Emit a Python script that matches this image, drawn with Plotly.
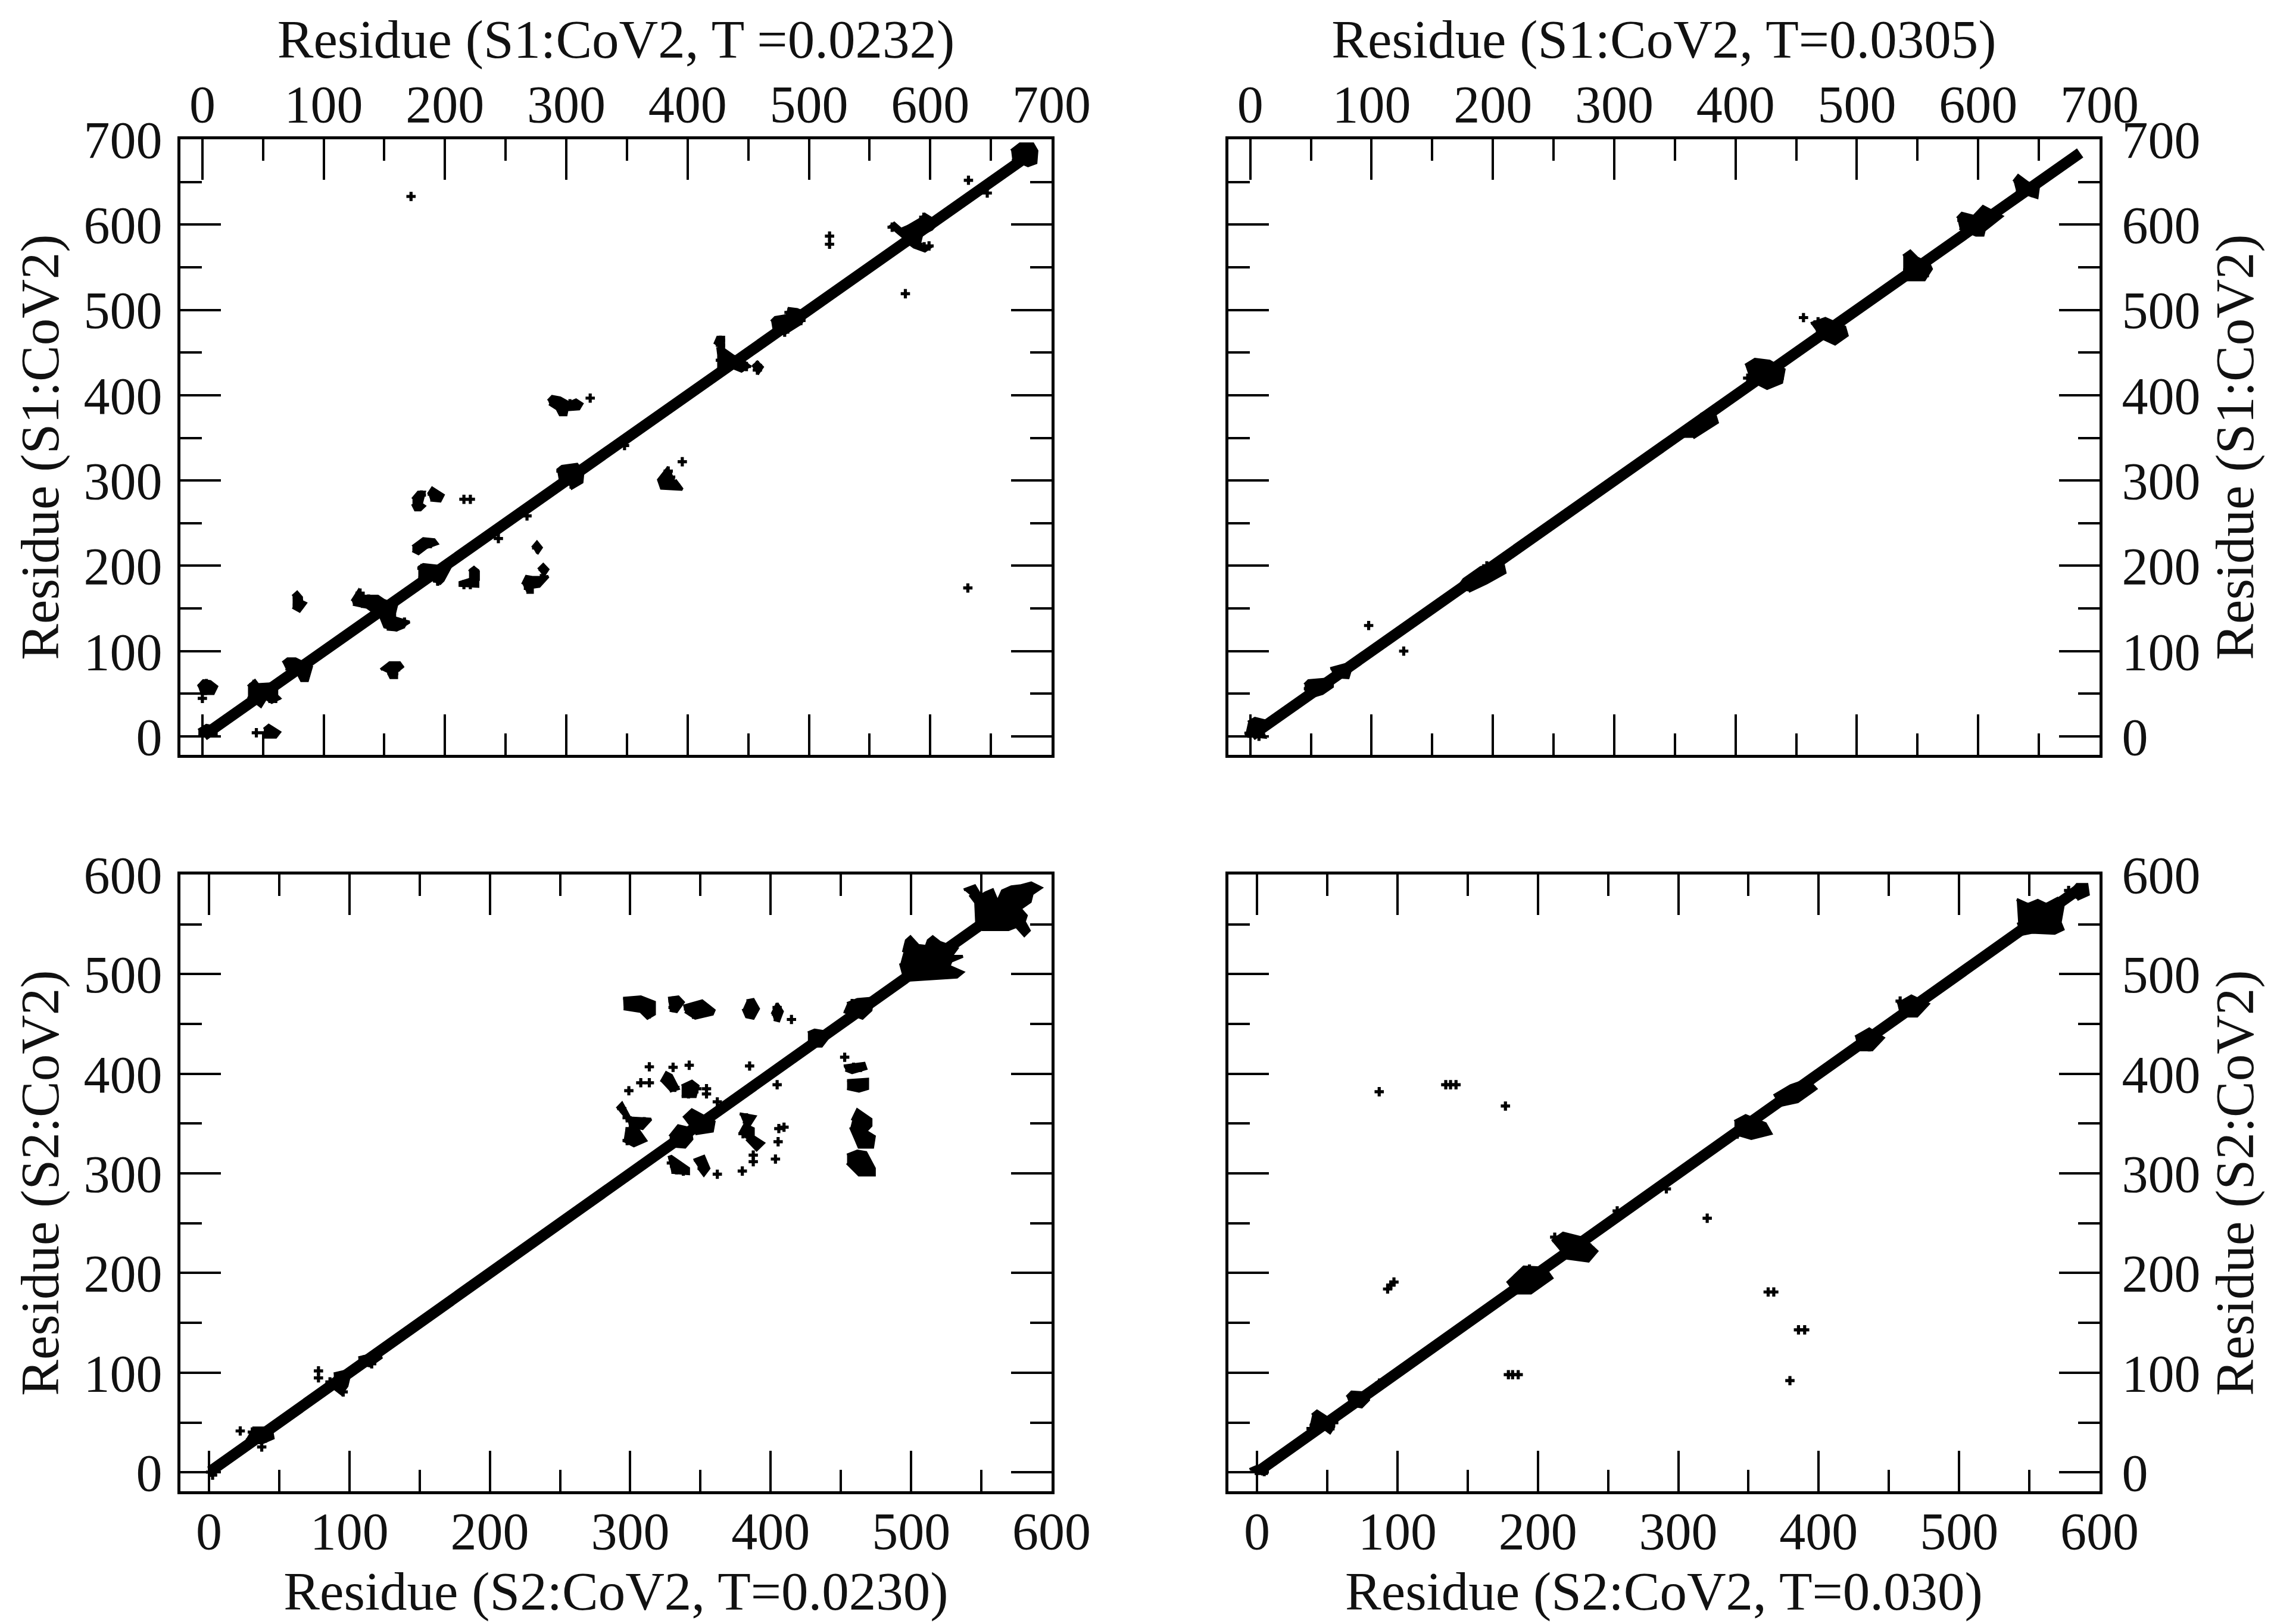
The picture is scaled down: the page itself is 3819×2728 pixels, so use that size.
import plotly.graph_objects as go

W, H = 3819, 2728
FONT = "Liberation Serif"

# ---- band along the diagonal (first and last residue seen in each map)
a_band = [1, 682]
b_band = [1, 684]
c_band = [1, 586]
d_band = [1, 586]

# ---- single contacts ("+" marks)
a_x = [172, 517, 517, 579.5, 568.6, 581.7, 588, 595, 599, 594.7, 427, 427, 429.7, 444.4, 448.5, 457.5, 457.5,
       483.6, 473.8, 485.3, 493.4, 631.5, 647, 590, 674, 683.8, 683, 671.5, 681, 631,
       290.8, 297, 297, 307, 303, 319.7, 384, 381, 390, 386, 395.6, 295.6, 304, 310, 304, 296.5, 307, 304,
       180.5, 178, 178, 189.5, 194.4, 215.6, 220.9, 177, 182, 188, 223.8, 215.6, 220.9, 222, 224, 275.6, 281,
       274.5, 268.8, 268.8, 279.4, 267.6, 244, 194, 348, 181, 188, 196, 194, 130, 128, 140, 145, 155, 157,
       152, 158.5, 166.6, 132, 137, 78.4, 78.4, 81.7, 156.9, 153.6, 157.7, 161.8, 0, 4.9, 8.2, 0, 3.3, 2.5,
       44.5, 54.7, 58.8, 52, 42.5, 41.7, 55.6, 55.6, 60.5, 45.8, 73.5, 72, 83.3, 78.4, 3.3, 8.2, 427, 476, 480]
a_y = [633, 586.5, 577, 519, 597, 589, 579.5, 574, 575, 608.6, 464.4, 458.6, 449, 434, 433.7, 435, 429.5,
       497, 484, 482, 487.6, 652, 637, 577, 688, 688, 675, 683, 680, 174,
       393.4, 388.7, 382, 389, 390, 396.6, 311, 299, 294.5, 304, 322, 311, 304, 306, 296, 312, 298, 296,
       283, 277, 270, 284, 282, 278, 278, 220, 225, 226, 191, 178, 178, 182, 187, 221, 195.7,
       181.7, 178, 173.6, 185, 258.5, 232, 183, 341, 197, 191, 188, 182, 168, 158.5, 158.5, 151, 142, 135,
       133.6, 130.6, 134, 156, 161, 163, 154, 156, 81.8, 78, 73.6, 81.8, 59.6, 60, 57, 44.6, 62, 54,
       4.3, 7.3, 4.3, 4.3, 61, 54, 56, 44.6, 44.6, 49, 86, 84, 70, 77, 7.3, 7.3, 441, 478, 474]

b_x = [97.6, 126.5, 4, -1, 7.2, 4, 48, 72.6, 64.4, 633, 644.6, 637, 586.6, 600, 592.4, 544, 550, 542, 549.8,
       555.6, 557.6, 456, 468, 480, 480, 414, 420, 428, 432, 425, 436, 410, 180, 190, 200, 195, 205, 470, 474]
b_y = [130, 100, 7, 3.8, 0.3, 16.6, 56, 76, 65.4, 651, 637.6, 644.6, 605, 593, 598, 563, 551.5, 547, 540,
       540, 549, 491, 486, 471, 479, 432, 422, 418, 428, 435, 420, 420, 178, 192, 190, 200, 198, 476, 482]

c_x = [298.9, 305, 311, 313.6, 330.5, 330.5, 341.5, 346.3, 345, 352.4, 356, 386, 386, 404.6, 404, 414.8,
       452.7, 459, 464, 313.6, 330.5, 342, 385, 307.5, 313.6, 327, 328, 331.8, 342.7, 341.5, 347.5, 354.3, 354.3,
       404.6, 460.5, 465.3, 299, 294, 297.8, 302.6, 310, 301.4, 300, 306.3, 297.8, 303.8, 342.7, 348.8, 353.6,
       336.6, 340.3, 382.8, 382.8, 380.3, 388.8, 387.6, 387.6, 405.8, 405.3, 403.4, 409.5, 461.7, 466.5, 462.9,
       465.3, 469, 466.5, 459.2, 461.7, 465.3, 469, 465.3, 470.2, 329.3, 333, 337.8, 350, 351.2, 362, 379.8,
       431.3, 461.7, 465.3, 458, 440, 362, 367,
       22.3, 37.6, 37.6, 30.9, 40.3, 21.5, 78, 78, 95.6, 93, 86.2, 110.5, 115.9, 1.2, 2.6]
c_y = [470.5, 469, 466.5, 460, 473, 466.5, 465, 465, 459.8, 466.5, 463.8, 469, 461, 466.5, 460, 454.5,
       416.6, 406.5, 406.5, 407, 406.5, 408.6, 407.8, 391, 391, 396, 390.5, 386.4, 385, 379.8, 385, 385, 379.8,
       389, 389, 389, 383, 365, 355.8, 351.8, 351.8, 342.4, 334.4, 334.4, 333, 339.8, 355.8, 351.8, 349,
       339.8, 333, 355.8, 345, 339.8, 331.8, 318.4, 311.8, 345, 331.8, 314.4, 346.4, 355.8, 351.8, 346.4,
       339.8, 335.8, 330.4, 315.7, 310.4, 311.7, 307.7, 303.7, 302.4, 310.4, 303.7, 302.4, 311.7, 305, 299.2, 302.4,
       435.8, 466.5, 463.8, 470.5, 441, 371.8, 366.4,
       41.5, 25.4, 38.4, 40.4, 34.4, 22.4, 101.8, 94.8, 80.7, 86.7, 90.8, 112.9, 108.9, 0.2, -2.8]

d_x = [87, 137.8, 134.4, 141.7, 176.9, 95.3, 93, 97.5, 182, 186, 179, 364, 368, 385.6, 390, 379.5, 291.5, 320.6,
       578, 585, 194, 203, 188, 212, 222, 229, 219, 237, 344, 355, 342, 431, 436, 426, 463, 458, 373, 385,
       44.5, 51.4, 38.5, 70, 42.7, 43.5, 51.9, 54.6, 71.6, 74.4, 68.8, 87.2, 1, 5.1, 256.5]
d_y = [382, 389, 389, 389, 367.6, 188, 184, 191, 98, 98, 98, 181, 181, 143, 143, 92, 284.5, 255,
       584, 586, 204, 195, 190, 236, 228, 218, 222, 225, 349.8, 345, 339.5, 435.7, 427, 427, 466, 473, 374.8, 386,
       54.4, 44, 44, 73.5, 57.6, 53.4, 43.7, 49.7, 75.6, 71.6, 69.6, 89.5, 2.7, 0.7, 262.4]

# ---- merged clumps of contacts, outlines
a_blobs = [
    [(285,393.4),(288.4,398.5),(294.9,396.9),(302.2,391),(308,394.5),(312.9,389.9),(310.4,384),(300.6,382.9),(299.8,377.1),(294.9,377.1),(292.4,384),(285.9,389.9)],
    [(173.2,278.3),(178,286.4),(183,286.4),(180.5,272.5),(183,270.1),(179.7,265.5),(175.6,265.5),(173.2,272.5)],
    [(186.2,284),(189.5,291.1),(198.5,282.9),(196,275.9),(187.9,277.1)],
    [(173.2,222.5),(182.1,231.8),(191.1,230.6),(193.6,225.9),(184.6,221.3),(178.1,214.3),(173.2,217.8)],
    [(220.5,194.5),(223.8,198),(227.1,194.5),(227.1,176),(212.4,177.1),(212.4,180.6),(220.5,184.1)],
    [(272,221.3),(275.8,227.8),(279.4,221.3),(275.8,213.8)],
    [(276.9,195.7),(281,201.5),(284.8,195.7),(281,187.6)],
    [(263.9,178.3),(267.1,187.6),(272,186.4),(279.4,186.4),(285.1,187.6),(277.7,176),(272,174.8),(272,169),(267.1,169)],
    [(123.3,158.5),(129,171.3),(132.3,164.3),(144.6,164.3),(149.5,159.6),(160.1,153.8),(158.5,144.5),(158.5,138.7),(170.7,134.1),(165,129.4),(160.1,124.8),(150.3,128.3),(147,139.9),(135.6,151.5),(124.1,155)],
    [(292.4,312),(296.5,316.6),(308.8,319),(313.7,309.7),(312.9,298),(304.7,291.1),(303,298),(294.1,298)],
    [(178,198),(182.1,201.5),(204.2,198),(198.5,182.9),(196,179.4),(189.5,184),(178,186.4)],
    [(384.3,316),(376,300.8),(378.4,291),(395.6,289.6),(389.7,300.8)],
    [(74.4,164.3),(78.1,169),(81.7,163.1),(81.7,158.5),(85,156.2),(80.1,146.9),(74.4,151.5)],
    [(147,78.2),(154.4,86.4),(162.6,86.4),(165,81.7),(160.1,75.9),(160.1,68.9),(155.2,68.9),(153.6,73.6)],
    [(-3.6,58.5),(0.8,65.4),(6.5,64.3),(11.8,58.5),(9,50.3),(-1.6,50.3)],
    [(37.6,58.5),(43.3,65.4),(45.8,60.8),(61.3,62),(61.3,48),(63.7,44.6),(57.2,39.9),(52.3,44.6),(48.2,35.2),(37.6,46.9)],
    [(66.2,86.4),(70.3,91),(76.8,91),(89.9,81.7),(86.6,65.4),(81.7,65.4),(78.4,74.8),(68.6,79.4)],
    [(150.3,135.2),(156.9,139.9),(165,136.4),(165.9,128.2),(160.1,124.8),(152,125.9)],
    [(219.8,193.4),(223.9,198),(227.5,193.4),(227.5,184.1),(219.8,184.1)],
    [(50.7,8.5),(54.7,13.1),(63.7,5),(60.5,-0.8),(50.7,-0.8)],
    [(-3.3,7.3),(3.3,13.1),(11.4,10.8),(11.4,0.3),(-3.3,0.3)],
    [(666.7,686.5),(674,694.6),(684.6,694.6),(687.9,686.5),(687.1,672.5),(680.6,669),(667.5,677.2)],
    [(566.2,596.9),(570.3,601.6),(576,594.6),(581.7,598.1),(591.5,606.2),(595.6,612),(606.2,602.7),(601.3,594.6),(593.1,588.8),(590.7,574.8),(601.3,574.8),(595.6,569),(586.6,573.7),(576.8,584.1)],
    [(422.3,459.7),(424.8,467.9),(429.7,467.9),(429.7,453.9),(437.9,445.8),(446,440),(451,434.2),(444.4,428.3),(436.2,433),(425.6,433),(425.6,447),(424.8,456.3)],
    [(453.4,433),(457.5,438.8),(461.6,433),(457.5,424.4)],
    [(468.9,486.5),(472.2,491.1),(482,493.5),(483.6,501.6),(490.2,500.4),(498.3,495.8),(493.4,484.2),(488.5,479.5),(480.3,472.5),(470.5,472.5)],
]
b_blobs = [
    [(629.2,650.4),(633,657.4),(640.8,649.2),(649.5,642.2),(648.5,631.8),(640.8,635.3),(631.1,639.9)],
    [(582.7,607.4),(586.6,613.2),(596.3,609.7),(604,621.3),(619.5,609.7),(605,593.4),(604,587.6),(598.2,587.6),(584.6,595.7)],
    [(538.2,563.2),(544,569),(549.8,560.8),(559.5,553.9),(561.4,548),(555.6,535.3),(538.2,535.3)],
    [(-1.8,16.6),(3.9,21.2),(17,16.6),(10.5,4.9),(12.1,-0.9),(-4.2,1.4)],
    [(44.8,60.7),(48.1,65.4),(67.7,67.7),(67.7,58.4),(59.5,50.3),(51.3,46.8),(44.8,46.8)],
    [(66,79.4),(77.5,84),(82.4,77),(80.7,68.9),(69.3,70)],
    [(408,435),(416,442),(428,440),(440,430),(438,415),(426,408),(412,418)],
    [(462,484),(474,490),(490,480),(492,470),(482,460),(470,468)],
    [(170,172),(176,184),(190,198),(208,205),(210,192),(195,180),(180,170)],
    [(355,350),(372,378),(382,382),(385,368),(365,350)],
]
c_blobs = [
    [(494.5,521.9),(496.6,533.8),(499.5,537.4),(505.1,528.8),(510.7,527.8),(512.2,533.8),(515.4,537.4),(520.6,531.8),(532.6,525.8),(528.4,517.9),(536.8,517.9),(528.4,512.9),(527,507.9),(532.6,504.9),(536.8,501.9),(532.6,497),(498.8,494),(494.5,500),(492.4,510.9)],
    [(537.5,584.6),(545.3,588.6),(549.5,578.6),(553,581.6),(558,584.6),(561.5,572.7),(565,583.6),(571.4,587.6),(577.7,588.6),(585.5,591.6),(592.5,586.6),(586.2,580.6),(584.8,572.7),(577.7,565.7),(582,558.7),(580.6,552.7),(584.1,543.8),(580.6,538.8),(574.9,547.8),(569.3,544.8),(550.9,544.8),(546.7,549.8),(546,571.7),(541.8,579.6)],
    [(294.9,475.8),(307.5,477.2),(317.2,471.8),(317.2,459.8),(312.3,455.8),(307.5,462.5),(295.3,465.2)],
    [(326.9,475.8),(334.2,477.2),(337.8,471.8),(333,462.5),(328.1,463.8)],
    [(337.8,467.8),(351.2,473.2),(359.7,463.8),(358.5,459.8),(346.3,455.8),(339,462.5)],
    [(382.8,473.2),(387.6,474.5),(391.3,465.2),(387.6,455.8),(382.8,457.2),(380.3,465.2)],
    [(401,459.8),(404.6,470.5),(408.3,462.5),(405.8,453.2),(402.2,454.5)],
    [(452,407.8),(466.5,410.5),(467.8,405.1),(458,401.1),(453.2,403.8)],
    [(454.4,393.1),(469,394.5),(469,385.1),(462.9,382.5),(454.4,385.1)],
    [(336.6,387.8),(343.9,392.6),(348.3,387.8),(346.3,377.1),(336.6,377.1)],
    [(322,391.8),(325.7,401.1),(329.3,398.5),(334.2,385.1),(328.1,382.5)],
    [(458,353.1),(461.7,363.8),(471.4,354.4),(471.4,347.8),(467.7,342.4),(473.8,337.1),(472.6,326.4),(462.9,326.4),(460.5,334.4),(456.8,346.4)],
    [(454.4,318.4),(461.7,322.4),(467.8,321),(473.8,305.1),(473.8,298.4),(462.9,298.4),(454.4,310.4)],
    [(296.6,345),(305.1,345),(311.1,333),(302.6,327.7),(295.3,333)],
    [(297.8,355.8),(314.8,354.4),(308.7,345),(299,347.8)],
    [(290.5,365.1),(294.1,370.4),(300.2,354.4),(296.6,354.4)],
    [(377.9,339.8),(381.5,349.1),(387.6,345),(387.6,337.1),(394.9,330.4),(390,323.7),(382.8,334.4)],
    [(377.9,359.8),(388.8,357.1),(385.2,349.1),(380.3,351.8)],
    [(326.9,315.8),(329.3,317.1),(341.5,305.1),(341.5,299.8),(329.3,301.1)],
    [(345.1,313.1),(352.4,317.1),(356,305.1),(352.4,298.4),(348.8,305.1)],
    [(337.8,355.8),(343.9,363.8),(359.7,351.8),(358.5,342.4),(346.3,339.8)],
    [(328.1,337.1),(334.2,347.8),(342.7,345),(343.9,334.4),(339,326.4),(328.1,327.7)],
    [(30.9,44.5),(44.4,44.5),(45.7,34.4),(37.6,29.4),(29.5,30.4),(26.8,34.4)],
    [(88.9,98.8),(101,102.8),(98.3,86.7),(94.3,78.7),(88.9,84.7)],
    [(106.4,114.9),(121.3,119.9),(122.6,114.9),(114.5,106.9),(106.4,108.9)],
    [(454.4,470.5),(461.7,474.5),(472.6,475.8),(471.4,463.8),(465.3,455.8),(456.8,459.8),(452,462.5)],
    [(426.5,441.1),(431.3,443.8),(443.5,441.1),(436.2,427.8),(426.5,427.8)],
]
d_blobs = [
    [(541,575),(549,570),(556,574),(562,570),(570,576),(574,568),(572,552),(574,545),(568,541),(552,542),(545,540),(542,552)],
    [(578,580),(584,590),(591,590),(592,580),(584,575)],
    [(39.2,57.5),(42.7,61.5),(49,55.7),(51.9,45.7),(54.7,45.7),(51.9,39.7),(46.2,45.7),(37.7,47.9)],
    [(63.9,75.6),(67.4,80.6),(78.7,79.6),(79.4,72.7),(74.5,65.6),(66,67.6)],
    [(-5.3,2.8),(-0.3,5.8),(5.3,3.8),(7.5,-1.2),(-1.7,-1.2)],
    [(178,190),(190,206),(205,205),(210,195),(195,180),(183,180)],
    [(210,232),(218,240),(232,235),(242,222),(236,212),(220,215)],
    [(340,352),(348,358),(362,350),(366,340),(352,335),(340,340)],
    [(426,437),(436,445),(446,436),(438,424),(428,424)],
    [(456,470),(466,478),(478,470),(470,458),(458,458)],
    [(368,378),(380,388),(392,394),(398,385),(385,372),(372,368)],
]

# ---- axis settings
ticks_700 = [0, 100, 200, 300, 400, 500, 600, 700]
minor_700 = [50, 150, 250, 350, 450, 550, 650]
ticks_600 = [0, 100, 200, 300, 400, 500, 600]
minor_600 = [50, 150, 250, 350, 450, 550]

titles_x = ["Residue (S1:CoV2, T =0.0232)", "Residue (S1:CoV2, T=0.0305)",
            "Residue (S2:CoV2, T=0.0230)", "Residue (S2:CoV2, T=0.030)"]
title_y_top = "Residue (S1:CoV2)"
title_y_bot = "Residue (S2:CoV2)"


def dom_x(a, b):
    return [a / W, b / W]


def dom_y(top, bottom):
    return [1 - bottom / H, 1 - top / H]


fig = go.Figure()


def band(vals, xa, ya):
    fig.add_trace(go.Scatter(x=vals, y=vals, mode="lines", xaxis=xa, yaxis=ya, showlegend=False,
                             line=dict(color="black", width=18.5)))


def blobs(items, xa, ya):
    xs, ys = [], []
    for item in items:
        for px, py in item:
            xs.append(px)
            ys.append(py)
        xs.append(None)
        ys.append(None)
    fig.add_trace(go.Scatter(x=xs, y=ys, mode="lines", fill="toself", fillcolor="black", xaxis=xa, yaxis=ya,
                             showlegend=False, line=dict(color="black", width=5)))


def pts(x, y, xa, ya):
    fig.add_trace(go.Scatter(x=x, y=y, mode="markers", xaxis=xa, yaxis=ya, showlegend=False,
                             marker=dict(symbol="cross", size=13, color="black", line_width=0)))


band(a_band, "x", "y");   blobs(a_blobs, "x", "y");   pts(a_x, a_y, "x", "y")
band(b_band, "x2", "y2"); blobs(b_blobs, "x2", "y2"); pts(b_x, b_y, "x2", "y2")
band(c_band, "x3", "y3"); blobs(c_blobs, "x3", "y3"); pts(c_x, c_y, "x3", "y3")
band(d_band, "x4", "y4"); blobs(d_blobs, "x4", "y4"); pts(d_x, d_y, "x4", "y4")


def axis(dom, rng, vals, minor, side, title, anchor, standoff, tsoff):
    return dict(domain=dom, range=rng, side=side, anchor=anchor, tickmode="array", tickvals=vals,
                ticktext=[str(v) for v in vals], ticks="inside", ticklen=68, tickwidth=4, tickcolor="black",
                minor=dict(tickmode="array", tickvals=minor, ticks="inside", ticklen=36, tickwidth=4, tickcolor="black"),
                showline=True, linewidth=5, linecolor="black", mirror="ticks", automargin=False,
                showgrid=False, zeroline=False, tickfont=dict(family=FONT, size=88, color="#111"),
                ticklabelstandoff=tsoff,
                title=dict(text=title, font=dict(family=FONT, size=91, color="#111"), standoff=standoff))


XL, XR = dom_x(303, 1766), dom_x(2063, 3526)
YT, YB = dom_y(234, 1268), dom_y(1469, 2505)
R7A = [-18.1, 700]; R7B = [-18, 700]; RY7 = [-21.6, 700]
R6C = [-20.3, 600]; R6D = [-20.4, 600]; RY6 = [-19, 600]

fig.update_layout(
    width=W, height=H, margin=dict(l=0, r=0, t=0, b=0), paper_bgcolor="white", plot_bgcolor="white",
    showlegend=False,
    xaxis=axis(XL, R7A, ticks_700, minor_700, "top", titles_x[0], "y", 0, -11),
    yaxis=axis(YT, RY7, ticks_700, minor_700, "left", title_y_top, "x", 13, 8),
    xaxis2=axis(XR, R7B, ticks_700, minor_700, "top", titles_x[1], "y2", 0, -11),
    yaxis2=axis(YT, RY7, ticks_700, minor_700, "right", title_y_top, "x2", 27, 15),
    xaxis3=axis(XL, R6C, ticks_600, minor_600, "bottom", titles_x[2], "y3", 22, -14),
    yaxis3=axis(YB, RY6, ticks_600, minor_600, "left", title_y_bot, "x3", 13, 8),
    xaxis4=axis(XR, R6D, ticks_600, minor_600, "bottom", titles_x[3], "y4", 22, -14),
    yaxis4=axis(YB, RY6, ticks_600, minor_600, "right", title_y_bot, "x4", 27, 15),
)

fig.write_html("out.html", config={"displayModeBar": False}, post_script="document.body.style.margin='0';")
